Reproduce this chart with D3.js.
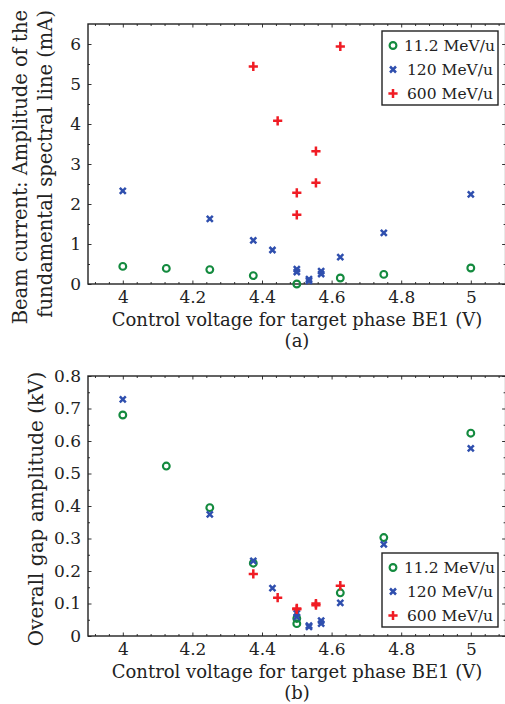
<!DOCTYPE html>
<html>
<head>
<meta charset="utf-8">
<script src="https://cdn.jsdelivr.net/npm/d3@7"></script>
<style>
  body { margin: 0; background: #fff; }
</style>
</head>
<body>
<div class="canvas"></div>
<script>
// panel (a): beam current
const xA_green = [4, 4.125, 4.25, 4.375, 4.5, 4.625, 4.75, 5];
const yA_green = [0.44, 0.39, 0.36, 0.21, 0.0, 0.15, 0.24, 0.40];
const xA_blue = [4, 4.25, 4.375, 4.43, 4.5, 4.5, 4.535, 4.535, 4.57, 4.57, 4.625, 4.75, 5];
const yA_blue = [2.33, 1.63, 1.09, 0.85, 0.37, 0.30, 0.12, 0.08, 0.32, 0.25, 0.67, 1.28, 2.24];
const xA_red = [4.375, 4.445, 4.5, 4.5, 4.555, 4.555, 4.625];
const yA_red = [5.44, 4.08, 2.28, 1.73, 3.32, 2.53, 5.94];

// panel (b): gap amplitude
const xB_green = [4, 4.125, 4.25, 4.375, 4.5, 4.5, 4.625, 4.75, 5];
const yB_green = [0.68, 0.523, 0.395, 0.224, 0.054, 0.038, 0.133, 0.303, 0.624];
const xB_blue = [4, 4.25, 4.375, 4.43, 4.5, 4.5, 4.535, 4.535, 4.57, 4.57, 4.625, 4.75, 5];
const yB_blue = [0.728, 0.374, 0.231, 0.147, 0.07, 0.059, 0.032, 0.028, 0.047, 0.038, 0.102, 0.282, 0.577];
const xB_red = [4.375, 4.445, 4.5, 4.5, 4.555, 4.555, 4.625];
const yB_red = [0.191, 0.118, 0.085, 0.082, 0.1, 0.095, 0.155];

const seriesNames = ["11.2 MeV/u", "120 MeV/u", "600 MeV/u"];
const xTicks = [4, 4.2, 4.4, 4.6, 4.8, 5];
const yTicksA = [0, 1, 2, 3, 4, 5, 6];
const yTicksB = [0, 0.1, 0.2, 0.3, 0.4, 0.5, 0.6, 0.7, 0.8];

const colors = ["#138a3e", "#2f4fae", "#f01c24"];
const shapes = ["circle", "cross", "plus"];
const serif = "DejaVu Serif";

const svg = d3.select(".canvas").append("svg")
  .attr("width", 505).attr("height", 704)
  .style("font-family", serif);

const zip = (xs, ys) => xs.map((x, i) => ({ x, y: ys[i] }));

const drawMarker = (g, shape, color) => {
  if (shape === "circle") {
    g.append("circle").attr("r", 3.4).attr("fill", "none")
      .attr("stroke", color).attr("stroke-width", 2.1);
  } else if (shape === "cross") {
    g.append("path").attr("d", "M-3,-3L3,3M-3,3L3,-3")
      .attr("stroke", color).attr("stroke-width", 2.5).attr("fill", "none");
  } else {
    g.append("path").attr("d", "M-4.6,0L4.6,0M0,-4.6L0,4.6")
      .attr("stroke", color).attr("stroke-width", 2.5).attr("fill", "none");
  }
};

const addText = (g, size) => g.append("text")
  .style("font-family", serif)
  .style("font-size", size + "px").attr("fill", "#222");

const drawPanel = ({ top, bottom, yDomain, yTicks, yMinor, yFmt, series, legend, yTitle, label }) => {
  const left = 88, right = 505.6;
  const x = d3.scaleLinear().domain([3.9, 5.1]).range([left, right]);
  const y = d3.scaleLinear().domain(yDomain).range([bottom, top]);
  const g = svg.append("g");

  // inward ticks on all four sides
  const xMinor = d3.range(3.92, 5.1, 0.04).filter(v => !xTicks.some(t => Math.abs(t - v) < 1e-6));
  g.append("g").attr("transform", `translate(0,${bottom})`)
    .call(d3.axisBottom(x).tickValues(xMinor).tickSize(-2).tickFormat(""));
  g.append("g").attr("transform", `translate(0,${top})`)
    .call(d3.axisTop(x).tickValues(xMinor).tickSize(-2).tickFormat(""));
  g.append("g").attr("transform", `translate(0,${bottom})`)
    .call(d3.axisBottom(x).tickValues(xTicks).tickSize(-3.5).tickPadding(7).tickFormat(d3.format("")));
  g.append("g").attr("transform", `translate(0,${top})`)
    .call(d3.axisTop(x).tickValues(xTicks).tickSize(-3.5).tickFormat(""));
  g.append("g").attr("transform", `translate(${left},0)`)
    .call(d3.axisLeft(y).tickValues(yMinor).tickSize(-2).tickFormat(""));
  g.append("g").attr("transform", `translate(${right},0)`)
    .call(d3.axisRight(y).tickValues(yMinor).tickSize(-2).tickFormat(""));
  g.append("g").attr("transform", `translate(${left},0)`)
    .call(d3.axisLeft(y).tickValues(yTicks).tickSize(-3.5).tickPadding(7).tickFormat(yFmt));
  g.append("g").attr("transform", `translate(${right},0)`)
    .call(d3.axisRight(y).tickValues(yTicks).tickSize(-3.5).tickFormat(""));

  g.selectAll(".domain").remove();
  g.selectAll("g").attr("font-family", serif);
  g.selectAll(".tick line").attr("stroke", "#333").attr("stroke-width", 1);
  g.selectAll(".tick text").style("font-family", serif).style("font-size", "17px").attr("fill", "#222");

  g.append("rect").attr("x", left).attr("y", top)
    .attr("width", right - left).attr("height", bottom - top)
    .attr("fill", "none").attr("stroke", "#222").attr("stroke-width", 1.4);

  series.forEach((pts, si) => {
    g.append("g").selectAll("g").data(pts).join("g")
      .attr("transform", d => `translate(${x(d.x)},${y(d.y)})`)
      .each(function () { drawMarker(d3.select(this), shapes[si], colors[si]); });
  });

  // legend
  const lg = g.append("g");
  lg.append("rect").attr("x", legend.x).attr("y", legend.y)
    .attr("width", 116).attr("height", 74)
    .attr("fill", "#fff").attr("stroke", "#222").attr("stroke-width", 1.4);
  seriesNames.forEach((name, i) => {
    const cy = legend.y + 14.5 + i * 24;
    const m = lg.append("g").attr("transform", `translate(${legend.x + 11},${cy})`);
    drawMarker(m, shapes[i], colors[i]);
    addText(lg, 15.5).attr("x", legend.x + (i === 0 ? 22 : 25)).attr("y", cy + 5.5).text(name);
  });

  // titles
  yTitle.forEach(t => {
    addText(g, t.size)
      .attr("transform", `translate(${t.x},${t.y}) rotate(-90)`)
      .attr("text-anchor", t.anchor).text(t.text);
  });
  addText(g, 18).attr("x", 297).attr("y", bottom + 42)
    .attr("text-anchor", "middle").text("Control voltage for target phase BE1 (V)");
  addText(g, 18).attr("x", 297).attr("y", bottom + 63)
    .attr("text-anchor", "middle").text(label);
};

drawPanel({
  top: 24, bottom: 284, yDomain: [0, 6.5],
  yTicks: yTicksA, yMinor: d3.range(0.5, 6.5, 1), yFmt: d3.format("d"),
  series: [zip(xA_green, yA_green), zip(xA_blue, yA_blue), zip(xA_red, yA_red)],
  legend: { x: 382, y: 31 },
  yTitle: [
    { x: 27, y: 10, anchor: "end", size: 19.5, text: "Beam current: Amplitude of the" },
    { x: 52, y: 10, anchor: "end", size: 19.5, text: "fundamental spectral line (mA)" }
  ],
  label: "(a)"
});

drawPanel({
  top: 376, bottom: 636, yDomain: [0, 0.8],
  yTicks: yTicksB, yMinor: d3.range(0.05, 0.8, 0.1), yFmt: d => d === 0 ? "0" : d3.format(".1f")(d),
  series: [zip(xB_green, yB_green), zip(xB_blue, yB_blue), zip(xB_red, yB_red)],
  legend: { x: 382, y: 553 },
  yTitle: [
    { x: 43, y: 509, anchor: "middle", size: 20, text: "Overall gap amplitude (kV)" }
  ],
  label: "(b)"
});
</script>
</body>
</html>
